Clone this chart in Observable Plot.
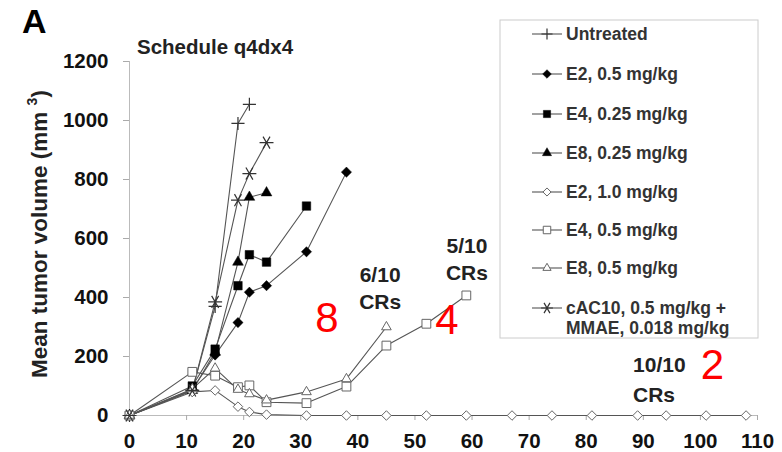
<!DOCTYPE html>
<html><head><meta charset="utf-8">
<script src="https://cdn.jsdelivr.net/npm/d3@7"></script>
<script src="https://cdn.jsdelivr.net/npm/@observablehq/plot@0.6"></script>
<style>
body{margin:0;background:#fff;font-family:"Liberation Sans",Arial,sans-serif;}
#chart{width:782px;height:452px;}
</style></head><body><div id="chart"></div>
<script>
// ---- data (days, mean tumor volume mm^3) ----
const seriesNames = ["Untreated","E2, 0.5 mg/kg","E4, 0.25 mg/kg","E8, 0.25 mg/kg","E2, 1.0 mg/kg","E4, 0.5 mg/kg","E8, 0.5 mg/kg","cAC10, 0.5 mg/kg +\nMMAE, 0.018 mg/kg"];
const untreatedDays = [0,11,15,19,21];
const untreatedVol  = [0,85,370,990,1055];
const e2LowDays = [0,11,15,19,21,24,31,38];
const e2LowVol  = [0,88,205,315,418,440,555,825];
const e4LowDays = [0,11,15,19,21,24,31];
const e4LowVol  = [0,100,225,440,545,520,710];
const e8LowDays = [0,11,15,19,21,24];
const e8LowVol  = [0,85,215,520,740,755];
const e2HighDays = [0,11,15,19,21,24,31,38,45,52,59,67,74,81,89,94,101,108];
const e2HighVol  = [0,80,85,30,12,3,0,0,0,0,0,0,0,0,0,0,0,0];
const e4HighDays = [0,11,15,19,21,24,31,38,45,52,59];
const e4HighVol  = [0,148,135,96,102,45,42,98,237,311,407];
const e8HighDays = [0,11,15,19,21,24,31,38,45];
const e8HighVol  = [0,90,160,88,73,52,80,124,300];
const cacDays = [0,11,15,19,21,24];
const cacVol  = [0,85,385,730,820,925];

const xTicks = [0,10,20,30,40,50,60,70,80,90,100,110];
const yTicks = [0,200,400,600,800,1000,1200];

const annoText = ["6/10\nCRs","5/10\nCRs"];
const annoX = [43.9, 59.1];
const annoY = [436, 534];
const anno2Text = ["10/10\nCRs"];
const anno2X = [88.2];
const anno2Y = [129];
const redText = ["8","4","2"];
const redX = [34.6, 55.6, 102.1];
const redY = [329, 322, 169];

// ---- build table ----
const daysList = [untreatedDays,e2LowDays,e4LowDays,e8LowDays,e2HighDays,e4HighDays,e8HighDays,cacDays];
const volList  = [untreatedVol,e2LowVol,e4LowVol,e8LowVol,e2HighVol,e4HighVol,e8HighVol,cacVol];
const rows = seriesNames.map((s,i)=>daysList[i].map((d,j)=>({series:s, day:d, vol:volList[i][j]})));

// ---- styles ----
const styles = [
  {symbol:"plus", fill:"none", stroke:"#333", r:4.3, sw:1.2},
  {symbol:"diamond2", fill:"#000", stroke:"#000", r:4.6, sw:0.5},
  {symbol:"square", fill:"#000", stroke:"#000", r:4.8, sw:0.5},
  {symbol:"triangle", fill:"#000", stroke:"#000", r:4.0, sw:0.5},
  {symbol:"diamond2", fill:"#fff", stroke:"#666", r:4.3, sw:1},
  {symbol:"square2", fill:"#fff", stroke:"#666", r:5.6, sw:1},
  {symbol:"triangle2", fill:"#fff", stroke:"#666", r:4.6, sw:1},
  {symbol:"asterisk", fill:"none", stroke:"#333", r:6.6, sw:1.2}
];

const font = "Liberation Sans, Arial, Helvetica, sans-serif";
const marks = [
  Plot.ruleY([0], {stroke:"#bbb"}),
  Plot.ruleX([0], {y1:0, y2:1200, stroke:"#bbb"}),
  Plot.axisX({ticks:xTicks, tickFormat:d=>String(d), tickSize:5, tickPadding:13, stroke:"#aaa", fill:"#111", fontSize:20.5, fontWeight:"bold", label:null}),
  Plot.axisY({ticks:yTicks, tickFormat:d=>String(d), tickSize:6, tickPadding:15, stroke:"#aaa", fill:"#111", fontSize:20.5, fontWeight:"bold", label:null})
];
rows.forEach((data,i)=>{
  marks.push(Plot.line(data, {x:"day", y:"vol", stroke:"#555", strokeWidth:1.1}));
});
rows.forEach((data,i)=>{
  const st = styles[i];
  marks.push(Plot.dot(data, {x:"day", y:"vol", symbol:st.symbol, r:st.r, fill:st.fill, stroke:st.stroke, strokeWidth:st.sw, rotate: st.symbol==="asterisk"?90:0}));
});
marks.push(Plot.text(annoText, {x:(d,i)=>annoX[i], y:(d,i)=>annoY[i], text:d=>d, fontSize:21, fontWeight:"bold", fill:"#222", lineHeight:1.3}));
marks.push(Plot.text(anno2Text, {x:(d,i)=>anno2X[i], y:(d,i)=>anno2Y[i], text:d=>d, fontSize:21, fontWeight:"bold", fill:"#222", lineHeight:1.4, textAnchor:"start"}));
marks.push(Plot.text(redText, {x:(d,i)=>redX[i], y:(d,i)=>redY[i], text:d=>d, fontSize:42, fontWeight:"normal", fill:"#ff0000"}));

const chart = Plot.plot({
  width:782, height:452,
  marginLeft:129, marginRight:25, marginTop:61, marginBottom:37,
  x:{domain:[0,110]},
  y:{domain:[0,1200]},
  style:{fontFamily:font, background:"#fff", color:"#111", overflow:"visible"},
  marks
});
document.getElementById("chart").appendChild(chart);

// ---- extra text & legend ----
const svg = d3.select(chart);
svg.append("text").attr("x",22).attr("y",33).attr("text-anchor","start").attr("font-size",34).attr("font-weight","bold").attr("fill","#000").attr("font-family",font).text("A");
svg.append("text").attr("x",137).attr("y",54).attr("text-anchor","start").attr("font-size",20.5).attr("font-weight","bold").attr("fill","#222").attr("font-family",font).text("Schedule q4dx4");
const yl = svg.append("text").attr("transform","translate(47,234) rotate(-90)").attr("text-anchor","middle")
  .attr("font-size",22.5).attr("font-weight","bold").attr("fill","#222").attr("font-family",font);
yl.append("tspan").text("Mean tumor volume (mm ");
yl.append("tspan").attr("font-size",14).attr("dy",-10).text("3");
yl.append("tspan").attr("dy",10).text(")");

const symMap = {plus:d3.symbolPlus, diamond2:d3.symbolDiamond2, square:d3.symbolSquare, triangle:d3.symbolTriangle, square2:d3.symbolSquare2, triangle2:d3.symbolTriangle2, asterisk:d3.symbolAsterisk};
const lg = svg.append("g").attr("font-family",font).attr("text-anchor","start");
lg.append("rect").attr("x",500).attr("y",20).attr("width",258).attr("height",318).attr("fill","#fff").attr("stroke","#ccc");
const rowY = [34,74,114,153,192,230,268,308];
seriesNames.forEach((s,i)=>{
  const st = styles[i], y = rowY[i];
  lg.append("line").attr("x1",532).attr("x2",562).attr("y1",y).attr("y2",y).attr("stroke","#555").attr("stroke-width",1.1);
  const r = st.r*0.85;
  lg.append("path").attr("d", d3.symbol(symMap[st.symbol], Math.PI*r*r)())
    .attr("transform",`translate(547,${y})${st.symbol==="asterisk"?" rotate(90)":""}`)
    .attr("fill",st.fill).attr("stroke",st.stroke).attr("stroke-width",st.sw);
  const t = lg.append("text").attr("x",566).attr("y",y).attr("text-anchor","start").attr("font-size",17.5).attr("font-weight","bold").attr("fill","#333");
  s.split("\n").forEach((line,k)=>{
    t.append("tspan").attr("x",566).attr("dy", k===0?"0.36em":"1.15em").text(line);
  });
});
</script></body></html>
